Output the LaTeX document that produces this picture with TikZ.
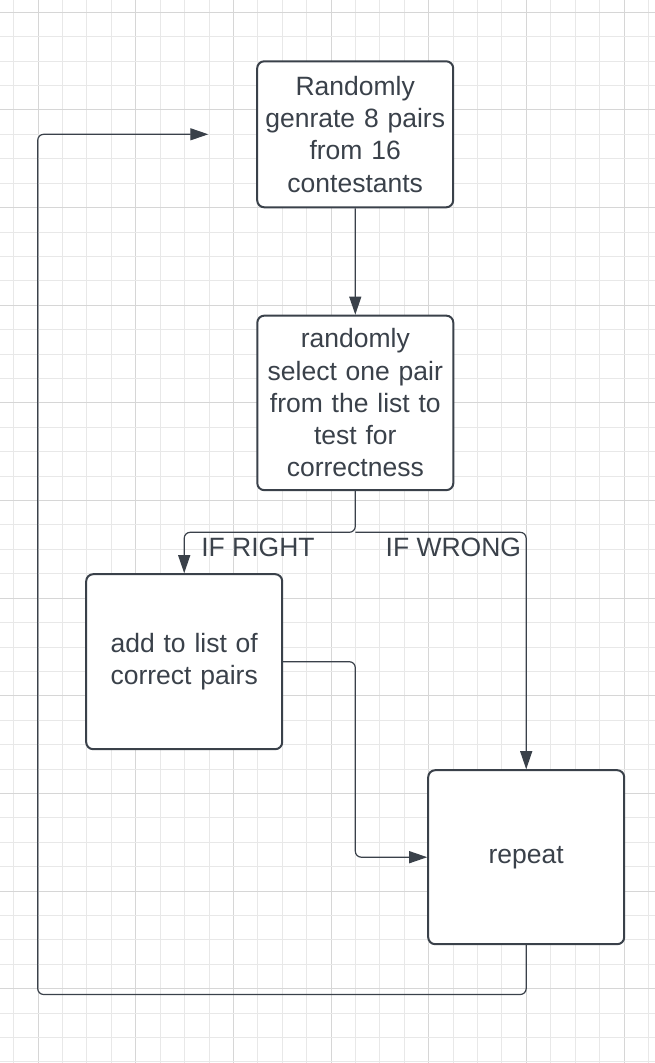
\documentclass[tikz,border=0pt]{standalone}
\usepackage{fontspec}
\setmainfont{Liberation Sans}
\usetikzlibrary{arrows.meta}
\definecolor{ink}{HTML}{3A414A}
\definecolor{gridminor}{HTML}{E8E8E8}
\definecolor{gridmajor}{HTML}{D6D6D6}
\tikzset{
  box/.style={draw=ink, line width=2pt, rounded corners=7pt, fill=white,
    minimum width=196pt, inner sep=0pt, align=center, text width=192pt,
    text=ink, font=\fontsize{26.5}{32.3}\selectfont},
  conn/.style={draw=ink, line width=1.2pt, rounded corners=6pt},
  arr/.style={conn, -{Triangle[length=18pt,width=12pt]}},
  lbl/.style={text=ink, inner sep=0pt, font=\fontsize{26.5}{32.3}\selectfont},
}
\begin{document}
\begin{tikzpicture}[x=1pt,y=-1pt]
\useasboundingbox (0,0) rectangle (655,1063);
\fill[white] (0,0) rectangle (655,1063);
% grid
\foreach \i in {0,...,26}{
  \pgfmathtruncatemacro{\m}{mod(\i,4)}
  \ifnum\m=1 \def\gc{gridmajor}\else\def\gc{gridminor}\fi
  \draw[\gc, line width=0.9pt] (13.7+\i*24.41,0) -- (13.7+\i*24.41,1063);
}
\foreach \j in {0,...,43}{
  \pgfmathtruncatemacro{\m}{mod(\j,4)}
  \ifnum\m=0 \def\gc{gridmajor}\else\def\gc{gridminor}\fi
  \draw[\gc, line width=0.9pt] (0,12.3+\j*24.41) -- (655,12.3+\j*24.41);
}
% boxes
\node[box, minimum height=146pt] (b1) at (355.2,134.3) {Randomly\\genrate 8 pairs\\from 16\\contestants};
\node[box, minimum height=174.5pt] (b2) at (355.3,402.9) {randomly\\select one pair\\from the list to\\test for\\correctness};
\node[box, minimum height=175pt] (b3) at (184.2,661.7) {add to list of\\correct pairs};
\node[box, minimum height=174pt] (b4) at (526.2,857.2) {repeat};
% labels
\node[lbl] (lr) at (258,547.3) {IF RIGHT};
\node[lbl] (lw) at (453.4,547.3) {IF WRONG};
% helper coordinates
\coordinate (split) at (355.3,532.3);
\coordinate (mid) at (355.3,857.2);
\coordinate (lb) at (37.7,994.5);
\coordinate (lt) at (37.7,134.3);
\coordinate (loopend) at (208.3,134.3);
% connectors
\draw[arr] (b1.south) -- (b2.north);
\draw[arr] (b2.south) -- (split) -| (b3.north);
\draw[arr] (split) -| (b4.north);
\draw[arr] (b3.east) -| (mid) -- (b4.west);
\draw[arr] (b4.south) |- (lb) -- (lt) -- (loopend);
\end{tikzpicture}
\end{document}
